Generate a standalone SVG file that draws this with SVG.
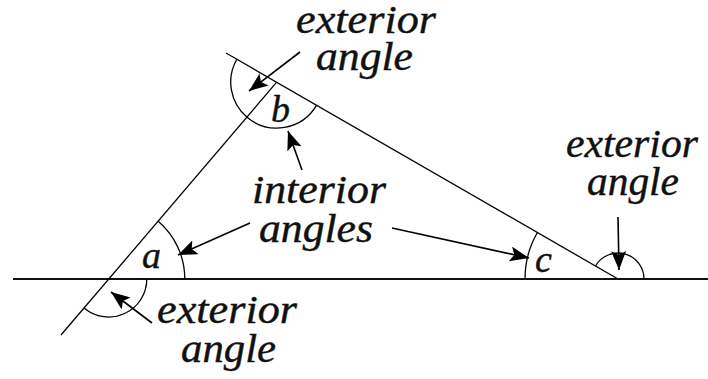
<svg xmlns="http://www.w3.org/2000/svg" width="708" height="379" viewBox="0 0 708 379">
  <style>
    .ln { stroke: #000; stroke-width: 1.3; fill: none; }
    .base { stroke: #111; stroke-width: 2; fill: none; }
    .arc { stroke: #000; stroke-width: 1.3; fill: none; }
    .arr { stroke: #000; stroke-width: 1.6; fill: none; marker-end: url(#head); }
    text { font-family: "Liberation Serif", "Times New Roman", serif; font-style: italic; fill: #111; stroke: #111; stroke-width: 0.4; }
    .lbl { font-size: 39px; }
    .vtx { font-size: 38px; }
  </style>
  <defs>
    <marker id="head" markerUnits="userSpaceOnUse" markerWidth="20" markerHeight="16" refX="19" refY="7.5" orient="auto">
      <path d="M0,0 L19,7.5 L0,15 L4,7.5 z" fill="#000"/>
    </marker>
  </defs>
  <rect width="708" height="379" fill="#fff"/>

  <g id="triangle">
    <line class="base" x1="13" y1="279" x2="708" y2="279"/>
    <line class="ln" x1="61" y1="335" x2="276.7" y2="82.2"/>
    <line class="ln" x1="226" y1="53" x2="618" y2="279"/>
  </g>

  <g id="angle-a">
    <path class="arc" d="M184.8,279 A76,76 0 0 0 158.2,221.2"/>
    <path class="arc" d="M146.8,279 A38,38 0 0 1 84.1,307.9"/>
    <text class="vtx" x="142" y="268">a</text>
  </g>

  <g id="angle-b">
    <path class="arc" d="M236.8,59.2 A46,46 0 0 0 247.1,117.2 A46,46 0 0 0 316.6,105.2"/>
    <text class="vtx" x="271" y="122">b</text>
  </g>

  <g id="angle-c">
    <path class="arc" d="M525,279 A93,93 0 0 1 537.4,232.5"/>
    <path class="arc" d="M595.5,266 A26,26 0 0 1 644,279"/>
    <text class="vtx" x="535" y="272">c</text>
  </g>

  <g id="label-exterior-b">
    <text class="lbl" x="296" y="33" textLength="140" lengthAdjust="spacingAndGlyphs">exterior</text>
    <text class="lbl" x="316" y="70" textLength="97" lengthAdjust="spacingAndGlyphs">angle</text>
  </g>
  <g id="label-interior">
    <text class="lbl" x="252" y="203" textLength="134" lengthAdjust="spacingAndGlyphs">interior</text>
    <text class="lbl" x="259" y="242" textLength="114" lengthAdjust="spacingAndGlyphs">angles</text>
  </g>
  <g id="label-exterior-c">
    <text class="lbl" x="566" y="157" textLength="132" lengthAdjust="spacingAndGlyphs">exterior</text>
    <text class="lbl" x="587" y="195" textLength="92" lengthAdjust="spacingAndGlyphs">angle</text>
  </g>
  <g id="label-exterior-a">
    <text class="lbl" x="157" y="323" textLength="140" lengthAdjust="spacingAndGlyphs">exterior</text>
    <text class="lbl" x="181" y="362" textLength="95" lengthAdjust="spacingAndGlyphs">angle</text>
  </g>

  <g id="connectors">
    <line class="arr" x1="300" y1="52" x2="249" y2="91"/>
    <line class="arr" x1="302" y1="170" x2="288" y2="131"/>
    <line class="arr" x1="250" y1="223" x2="178" y2="255"/>
    <line class="arr" x1="392" y1="228" x2="529" y2="258"/>
    <line class="arr" x1="152" y1="323" x2="111" y2="292"/>
    <line class="arr" x1="618" y1="217" x2="619" y2="270"/>
  </g>
</svg>
